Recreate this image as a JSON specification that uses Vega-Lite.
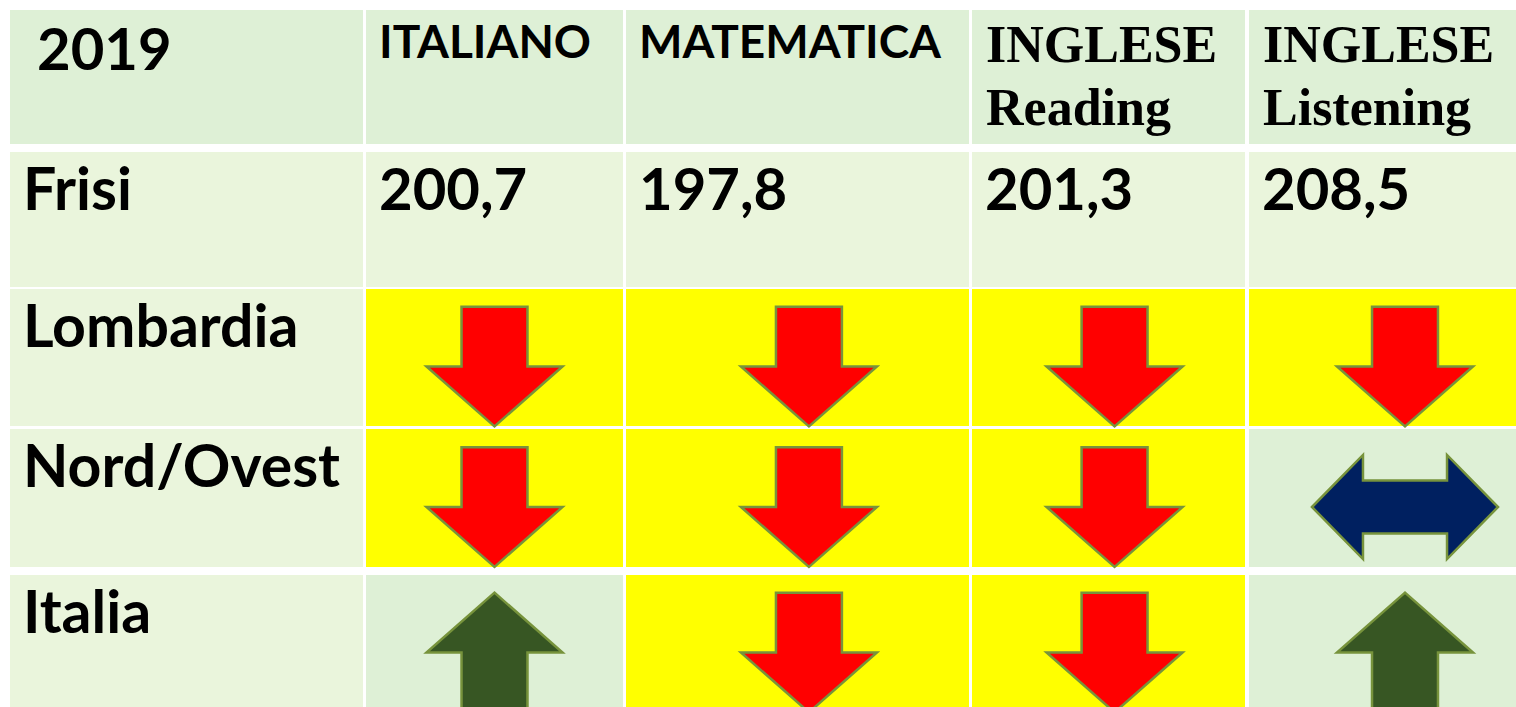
{
  "$schema": "https://vega.github.io/schema/vega-lite/v6.json",
  "width": 1516,
  "height": 707,
  "autosize": {"type": "fit", "contains": "padding"},
  "padding": 0,
  "background": "#FFFFFF",
  "config": {
    "view": {"stroke": null},
    "locale": {"number": {"decimal": ",", "thousands": ".", "grouping": [3], "currency": ["", " €"]}}
  },
  "datasets": {
    "colonne": [
      {"colonna": "Area", "ci": 0, "ce": 0.9, "cm": 0.45},
      {"colonna": "ITALIANO", "ci": 1, "ce": 1.9, "cm": 1.45},
      {"colonna": "MATEMATICA", "ci": 2, "ce": 2.9, "cm": 2.48},
      {"colonna": "INGLESE\nReading", "ci": 3, "ce": 3.9, "cm": 3.47},
      {"colonna": "INGLESE\nListening", "ci": 4, "ce": 4.9, "cm": 4.45}
    ],
    "righe": [
      {"riga": "2019", "ri": 0, "re": 0.9, "rm": 0.45},
      {"riga": "Frisi", "ri": 1, "re": 1.9, "rm": 1.45},
      {"riga": "Lombardia", "ri": 2, "re": 2.9, "rm": 2.45},
      {"riga": "Nord/Ovest", "ri": 3, "re": 3.9, "rm": 3.45},
      {"riga": "Italia", "ri": 4, "re": 4.9, "rm": 4.45}
    ],
    "celle": [
      {"riga": "2019", "colonna": "Area", "stato": "intestazione", "testo": "2019"},
      {"riga": "2019", "colonna": "ITALIANO", "stato": "intestazione", "testo": "ITALIANO"},
      {"riga": "2019", "colonna": "MATEMATICA", "stato": "intestazione", "testo": "MATEMATICA"},
      {"riga": "2019", "colonna": "INGLESE\nReading", "stato": "intestazione", "testo": "INGLESE\nReading"},
      {"riga": "2019", "colonna": "INGLESE\nListening", "stato": "intestazione", "testo": "INGLESE\nListening"},
      {"riga": "Frisi", "colonna": "Area", "stato": "etichetta", "testo": "Frisi"},
      {"riga": "Frisi", "colonna": "ITALIANO", "stato": "valore", "punteggio": 200.7},
      {"riga": "Frisi", "colonna": "MATEMATICA", "stato": "valore", "punteggio": 197.8},
      {"riga": "Frisi", "colonna": "INGLESE\nReading", "stato": "valore", "punteggio": 201.3},
      {"riga": "Frisi", "colonna": "INGLESE\nListening", "stato": "valore", "punteggio": 208.5},
      {"riga": "Lombardia", "colonna": "Area", "stato": "etichetta", "testo": "Lombardia"},
      {"riga": "Lombardia", "colonna": "ITALIANO", "stato": "peggiore"},
      {"riga": "Lombardia", "colonna": "MATEMATICA", "stato": "peggiore"},
      {"riga": "Lombardia", "colonna": "INGLESE\nReading", "stato": "peggiore"},
      {"riga": "Lombardia", "colonna": "INGLESE\nListening", "stato": "peggiore"},
      {"riga": "Nord/Ovest", "colonna": "Area", "stato": "etichetta", "testo": "Nord/Ovest"},
      {"riga": "Nord/Ovest", "colonna": "ITALIANO", "stato": "peggiore"},
      {"riga": "Nord/Ovest", "colonna": "MATEMATICA", "stato": "peggiore"},
      {"riga": "Nord/Ovest", "colonna": "INGLESE\nReading", "stato": "peggiore"},
      {"riga": "Nord/Ovest", "colonna": "INGLESE\nListening", "stato": "invariato"},
      {"riga": "Italia", "colonna": "Area", "stato": "etichetta", "testo": "Italia"},
      {"riga": "Italia", "colonna": "ITALIANO", "stato": "migliore"},
      {"riga": "Italia", "colonna": "MATEMATICA", "stato": "peggiore"},
      {"riga": "Italia", "colonna": "INGLESE\nReading", "stato": "peggiore"},
      {"riga": "Italia", "colonna": "INGLESE\nListening", "stato": "migliore"}
    ]
  },
  "data": {"name": "celle"},
  "transform": [
    {"lookup": "colonna", "from": {"data": {"name": "colonne"}, "key": "colonna", "fields": ["ci", "ce", "cm"]}},
    {"lookup": "riga", "from": {"data": {"name": "righe"}, "key": "riga", "fields": ["ri", "re", "rm"]}}
  ],
  "encoding": {
    "x": {
      "field": "ci", "type": "quantitative", "axis": null,
      "scale": {"domain": [0, 0.9, 1, 1.9, 2, 2.9, 3, 3.9, 4, 4.9], "range": [10, 363, 366, 623, 626, 969, 972, 1245, 1249, 1561], "zero": false, "nice": false}
    },
    "y": {
      "field": "ri", "type": "quantitative", "axis": null,
      "scale": {"domain": [0, 0.9, 1, 1.9, 2, 2.9, 3, 3.9, 4, 4.9], "range": [10, 144, 152, 287, 289, 426, 429, 567, 575, 712], "zero": false, "nice": false}
    }
  },
  "layer": [
    {
      "mark": {"type": "rect", "strokeWidth": 0},
      "encoding": {
        "x2": {"field": "ce"},
        "y2": {"field": "re"},
        "fill": {
          "field": "stato", "type": "nominal", "legend": null,
          "scale": {"domain": ["intestazione", "etichetta", "valore", "peggiore", "migliore", "invariato"], "range": ["#DEF0D6", "#EAF5DC", "#EAF5DC", "#FFFF00", "#DEF0D6", "#DEF0D6"]}
        }
      }
    },
    {
      "transform": [{"filter": "datum.colonna == 'Area' && datum.riga != '2019'"}],
      "mark": {"type": "text", "align": "left", "baseline": "alphabetic", "dx": 13, "dy": 58, "font": "Lato", "fontWeight": "bold", "fontSize": 59, "color": "#000000"},
      "encoding": {"text": {"field": "testo"}}
    },
    {
      "transform": [{"filter": "datum.colonna == 'Area' && datum.riga == '2019'"}],
      "mark": {"type": "text", "align": "left", "baseline": "alphabetic", "dx": 27, "dy": 60, "font": "Lato", "fontWeight": "bold", "fontSize": 58, "color": "#000000"},
      "encoding": {"text": {"field": "testo"}}
    },
    {
      "transform": [{"filter": "datum.riga == '2019' && (datum.colonna == 'ITALIANO' || datum.colonna == 'MATEMATICA')"}],
      "mark": {"type": "text", "align": "left", "baseline": "alphabetic", "dx": 13, "dy": 48, "font": "Lato", "fontWeight": "bold", "fontSize": 46, "color": "#000000"},
      "encoding": {"text": {"field": "testo"}}
    },
    {
      "transform": [{"filter": "datum.riga == '2019' && indexof(datum.colonna, 'INGLESE') == 0"}],
      "mark": {"type": "text", "align": "left", "baseline": "alphabetic", "dx": 14, "dy": 52, "lineBreak": "\n", "lineHeight": 63, "font": "Liberation Serif", "fontWeight": "bold", "fontSize": 52, "color": "#000000"},
      "encoding": {"text": {"field": "testo"}}
    },
    {
      "transform": [{"filter": "datum.stato == 'valore'"}],
      "mark": {"type": "text", "align": "left", "baseline": "alphabetic", "dx": 13, "dy": 58, "font": "Lato", "fontWeight": "bold", "fontSize": 58, "color": "#000000"},
      "encoding": {"text": {"field": "punteggio", "type": "quantitative", "format": ".1f"}}
    },
    {
      "transform": [{"filter": "datum.stato == 'peggiore' || datum.stato == 'migliore' || datum.stato == 'invariato'"}],
      "mark": {"type": "point", "filled": true, "opacity": 1, "fillOpacity": 1, "stroke": "#77933C", "strokeWidth": 2.5, "yOffset": 9},
      "encoding": {
        "x": {"field": "cm", "type": "quantitative"},
        "y": {"field": "rm", "type": "quantitative"},
        "size": {"value": 18496},
        "shape": {
          "field": "stato", "type": "nominal", "legend": null,
          "scale": {"domain": ["peggiore", "migliore", "invariato"], "range": [
            "M-0.485,-0.88L0.485,-0.88L0.485,0L1,0L0,0.88L-1,0L-0.485,0Z",
            "M-0.485,0.88L0.485,0.88L0.485,0L1,0L0,-0.88L-1,0L-0.485,0Z",
            "M-1.368,0L-0.618,-0.765L-0.618,-0.39L0.618,-0.39L0.618,-0.765L1.368,0L0.618,0.765L0.618,0.39L-0.618,0.39L-0.618,0.765Z"
          ]}
        },
        "fill": {
          "field": "stato", "type": "nominal", "legend": null,
          "scale": {"domain": ["peggiore", "migliore", "invariato"], "range": ["#FF0000", "#375623", "#002060"]}
        }
      }
    }
  ],
  "resolve": {"scale": {"fill": "independent"}}
}
